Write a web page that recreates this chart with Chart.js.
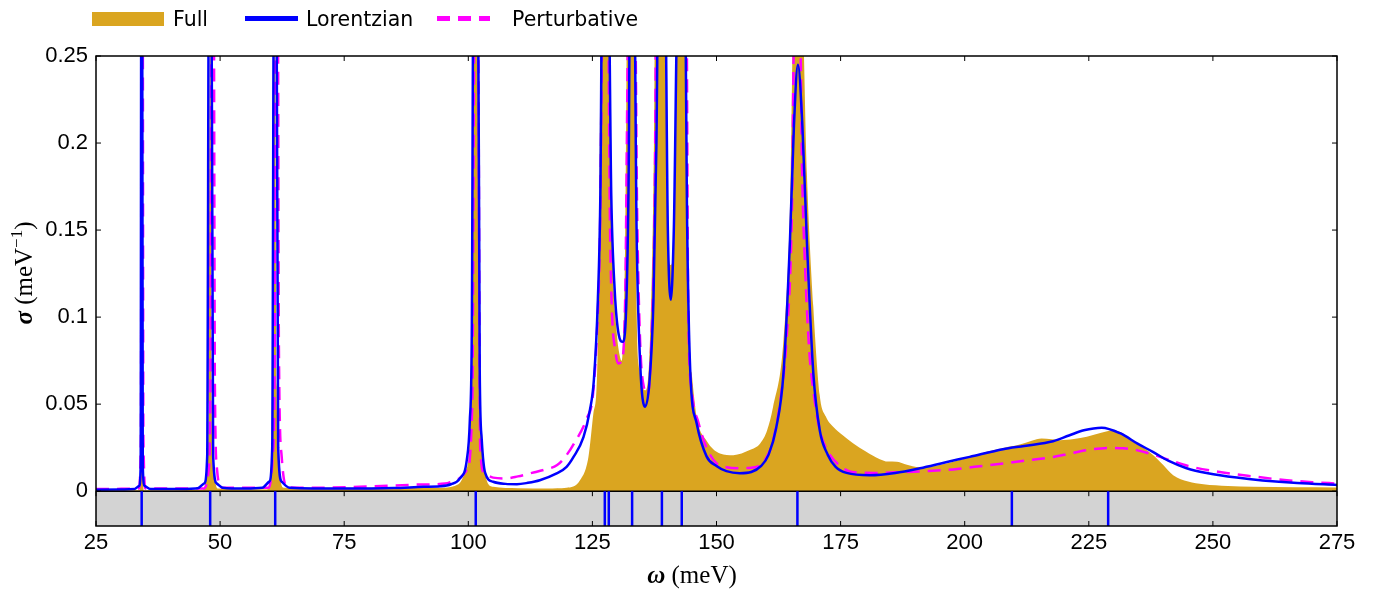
<!DOCTYPE html>
<html>
<head>
<meta charset="utf-8">
<script src="https://cdn.jsdelivr.net/npm/chart.js@4.4.1/dist/chart.umd.min.js"></script>
<style>
    body { margin: 0; background: #fff; }
    #wrap { position: relative; width: 1375px; height: 589px; }
    #legend { position: absolute; left: 0; top: 0; width: 700px; height: 40px; font: 20.5px "DejaVu Sans", sans-serif; color: #000; }
    #legend span { position: absolute; }
    .txt { top: 5px; line-height: 28px; white-space: nowrap; }
</style>
</head>
<body>
<div id="wrap">
    <canvas id="myChart" width="1375" height="589"></canvas>
    <div id="legend">
        <span style="left:92px;top:12px;width:72px;height:14px;background:#DAA520"></span>
        <span class="txt" style="left:173px">Full</span>
        <span style="left:245px;top:16px;width:53px;height:5px;background:#0000FF"></span>
        <span class="txt" style="left:306px">Lorentzian</span>
        <span style="left:437px;top:16px;width:53px;height:5px;background:repeating-linear-gradient(90deg,#FF00FF 0 13px,transparent 13px 21px)"></span>
        <span class="txt" style="left:512px">Perturbative</span>
    </div>
</div>
<script>
// x axis / y axis ticks
var xTicks = [25, 50, 75, 100, 125, 150, 175, 200, 225, 250, 275];
var yTicks = [0, 0.05, 0.1, 0.15, 0.2, 0.25];

// mode positions (blue marks in the lower strip)
var modes = [34.2, 48.0, 61.1, 101.5, 127.5, 128.3, 133.0, 139.0, 143.0, 166.3, 209.5, 228.9];

// Full (gold area)
var fullX = [25, 33.7, 34.05, 34.2, 34.35, 34.7, 46.5, 47.3, 47.7, 48.0, 48.3, 48.8, 49.5,
    59.5, 60.3, 60.7, 61.0, 61.4, 61.9, 62.8, 95, 98, 99.5, 100.5, 101.1, 101.9, 102.5, 103.3, 103.8,
    105, 110, 116, 119.8, 122.5, 124.2, 125.2, 125.9, 126.3, 126.8, 128.2, 129, 129.8, 130.5, 130.9,
    131.6, 132.1, 133.4, 133.9, 134.5, 135.2, 135.7, 136.6, 137.4, 137.7, 139.5, 140.0, 140.8, 141.6,
    142.1, 143.8, 144.3, 145, 146, 148, 150.7, 153.4, 156.7, 158.8, 160.2, 161.4, 163.5, 164.8, 165.7,
    167.0, 168.2, 169.5, 170.8, 172, 173.5, 175.5, 177.5, 180, 182.9, 184.5, 186.3, 188, 191, 194,
    197.7, 201, 204.4, 208, 211.1, 213.5, 215.5, 217.5, 219.2, 222, 224.6, 227.5, 229.9, 232, 234,
    236, 238, 240, 242, 245, 248.1, 253, 258.1, 275];
var fullY = [0.0003, 0.0005, 0.03, 0.3, 0.03, 0.0005, 0.0008, 0.01, 0.05, 0.3, 0.05, 0.01, 0.0015,
    0.001, 0.015, 0.06, 0.3, 0.06, 0.015, 0.002, 0.002, 0.004, 0.012, 0.05, 0.3, 0.3, 0.05, 0.012, 0.0054,
    0.0025, 0.0017, 0.0016, 0.002, 0.0063, 0.0197, 0.0447, 0.064, 0.125, 0.3, 0.3, 0.144, 0.095, 0.078, 0.075,
    0.144, 0.3, 0.3, 0.106, 0.07, 0.059, 0.058, 0.087, 0.2, 0.3, 0.3, 0.17, 0.13, 0.17,
    0.3, 0.3, 0.106, 0.068, 0.0427, 0.029, 0.0217, 0.0207, 0.0236, 0.0274, 0.035, 0.0485, 0.087, 0.163, 0.3,
    0.3, 0.183, 0.106, 0.055, 0.043, 0.037, 0.032, 0.0276, 0.023, 0.0184, 0.017, 0.0169, 0.0155, 0.0138, 0.0145,
    0.0169, 0.0195, 0.0226, 0.025, 0.0268, 0.029, 0.0303, 0.0298, 0.0293, 0.03, 0.0312, 0.0335, 0.035, 0.033, 0.0283,
    0.025, 0.0207, 0.015, 0.0092, 0.0055, 0.004, 0.003, 0.0025, 0.0021];

// Lorentzian (blue line)
var lorX = [25, 30, 32.8, 33.7, 34.0, 34.12, 34.3, 34.42, 34.8, 36, 42, 45.5, 46.8, 47.4, 47.75, 48.25,
    48.6, 49.3, 50.5, 55, 58.5, 59.9, 60.5, 60.85, 61.35, 61.7, 62.4, 64, 75, 85, 91, 94.3, 96.5, 98.3,
    99.7, 100.3, 100.7, 101.05, 101.95, 102.3, 102.7, 103.4, 105, 107.5, 109.8, 112, 114.4, 117.8, 119.8, 121.2, 123.2,
    124.5, 125.3, 126.1, 126.6, 127.0, 128.2, 128.8, 129.5, 130.3, 131.1, 131.8, 132.3, 132.6, 133.4,
    133.9, 134.6, 135.6, 136.5, 137.3, 137.9, 138.3, 139.6, 140.2, 140.8, 141.4, 142.3, 143.6, 144.1,
    144.7, 146, 148, 150, 152, 154.7, 157, 159, 160.5, 162, 163.5, 164.8, 165.6, 166.4, 167.3, 168.2,
    169.5, 170.8, 172.4, 174, 176.2, 180.9, 186, 191, 196, 201, 207.7, 212, 217.8, 221, 224, 227.6,
    231.3, 235, 237.9, 241, 244.7, 249, 254.8, 260, 267, 275];
var lorY = [0.0008, 0.0009, 0.0013, 0.003, 0.015, 0.3, 0.3, 0.015, 0.003, 0.0012, 0.0012, 0.0017, 0.0045, 0.02, 0.3, 0.3,
    0.02, 0.0045, 0.002, 0.0015, 0.002, 0.0055, 0.025, 0.3, 0.3, 0.025, 0.0055, 0.002, 0.0015, 0.0018, 0.0025, 0.0028, 0.004, 0.0073,
    0.018, 0.04, 0.09, 0.3, 0.3, 0.07, 0.03, 0.0105, 0.0054, 0.0042, 0.004, 0.0048, 0.0063, 0.0102, 0.014, 0.0197, 0.031,
    0.0466, 0.064, 0.11, 0.17, 0.3, 0.3, 0.17, 0.115, 0.09, 0.0858, 0.105, 0.18, 0.3, 0.3,
    0.15, 0.075, 0.0485, 0.063, 0.11, 0.2, 0.3, 0.3, 0.15, 0.11, 0.15, 0.3, 0.3, 0.15,
    0.07, 0.039, 0.02, 0.0145, 0.0115, 0.0103, 0.011, 0.0145, 0.021, 0.036, 0.068, 0.144, 0.21, 0.245, 0.21, 0.144,
    0.068, 0.035, 0.021, 0.014, 0.0105, 0.0092, 0.0105, 0.0132, 0.0165, 0.0197, 0.0241, 0.026, 0.0287, 0.032, 0.035, 0.0365,
    0.0333, 0.027, 0.0226, 0.0175, 0.0132, 0.0103, 0.0078, 0.0062, 0.0047, 0.0036];

// Perturbative (magenta dashed)
var pertX = [25, 33.6, 34.05, 34.22, 34.4, 34.55, 35, 46.8, 47.7, 48.05, 48.3, 48.7, 48.95, 49.4, 50.3,
    59.8, 60.6, 61.0, 61.2, 61.6, 61.85, 62.4, 63.5, 70, 80, 90, 95.3, 98, 99.7, 100.8, 101.3, 101.9,
    102.4, 103.2, 105, 107.6, 110, 112.8, 115.5, 117.9, 119.6, 121.3, 123.9, 125.1, 125.9, 126.5, 127.2,
    128.1, 128.5, 128.9, 129.6, 130.2, 130.9, 131.6, 132.4, 133.5, 134.0, 134.6, 135.5, 136.1, 136.9,
    137.6, 137.9, 143.9, 144.3, 145, 146.4, 148, 150, 152, 154.7, 157, 158.8,
    160.2, 161.4, 163, 164.1, 165.2, 165.8, 166.7, 167.2, 167.9, 168.7, 169.5, 170.8, 172.2, 174.9, 177.3,
    182, 187.6, 192, 197.7, 202, 207.8, 212, 217.9, 221, 224.6, 229.3, 232, 234.6, 238, 241.4, 245, 251.4,
    258, 264.9, 270, 275];
var pertY = [0.0012, 0.0015, 0.03, 0.3, 0.3, 0.03, 0.0015, 0.0016, 0.012, 0.06, 0.3, 0.3, 0.06, 0.012, 0.002,
    0.002, 0.02, 0.08, 0.3, 0.3, 0.08, 0.02, 0.0022, 0.002, 0.0027, 0.0038, 0.0044, 0.007, 0.012, 0.05, 0.3, 0.3,
    0.025, 0.0105, 0.0078, 0.0073, 0.0085, 0.0105, 0.0125, 0.015, 0.02, 0.0274, 0.042, 0.055, 0.09, 0.144, 0.3,
    0.3, 0.163, 0.106, 0.081, 0.0734, 0.075, 0.11, 0.3, 0.3, 0.163, 0.087, 0.058, 0.055, 0.087,
    0.18, 0.3, 0.3, 0.106, 0.058, 0.039, 0.025, 0.016, 0.0138, 0.0132, 0.0135, 0.015,
    0.02, 0.029, 0.055, 0.087, 0.163, 0.3, 0.3, 0.19, 0.125, 0.08, 0.058, 0.035, 0.024, 0.0145, 0.011,
    0.0105, 0.011, 0.0115, 0.0125, 0.014, 0.0159, 0.0175, 0.0197, 0.0215, 0.0236, 0.0249, 0.0246, 0.0236, 0.021, 0.0178, 0.0145, 0.011,
    0.0085, 0.0063, 0.0052, 0.0044];

var STRIP = -0.02;
var SERIF = '"Liberation Serif", serif';
var SANS = '"Liberation Sans", Arial, sans-serif';

function pts(xs, ys) {
    return xs.map((x, i) => ({ x: x, y: ys[i] }));
}

// frame, inward ticks and axis titles
var frameTicks = {
    id: 'frameTicks',
    afterDraw: function (chart) {
        const ctx = chart.ctx;
        const a = chart.chartArea;
        const xs = chart.scales.x, ys = chart.scales.y;
        const zero = ys.getPixelForValue(0);
        ctx.save();
        ctx.strokeStyle = '#000';
        ctx.lineWidth = 1;
        ctx.beginPath();
        xTicks.forEach(v => {
            const p = xs.getPixelForValue(v);
            ctx.moveTo(p, a.bottom); ctx.lineTo(p, a.bottom - 5);
            ctx.moveTo(p, zero); ctx.lineTo(p, zero + 5);
            ctx.moveTo(p, a.top); ctx.lineTo(p, a.top + 5);
        });
        yTicks.forEach(v => {
            const p = ys.getPixelForValue(v);
            ctx.moveTo(a.left, p); ctx.lineTo(a.left + 5, p);
            ctx.moveTo(a.right, p); ctx.lineTo(a.right - 5, p);
        });
        ctx.stroke();
        ctx.lineWidth = 1.5;
        ctx.strokeRect(a.left, a.top, a.right - a.left, a.bottom - a.top);

        // x title
        ctx.fillStyle = '#000';
        ctx.textBaseline = 'alphabetic';
        drawParts(ctx, [
            { t: 'ω', f: 'bold italic 25px ' + SERIF },
            { t: ' (meV)', f: '25px ' + SERIF }
        ], 692, 583);
        // y title
        ctx.translate(32, 273);
        ctx.rotate(-Math.PI / 2);
        drawParts(ctx, [
            { t: 'σ', f: 'bold italic 25px ' + SERIF },
            { t: ' (meV', f: '25px ' + SERIF },
            { t: '−1', f: '17px ' + SERIF, dy: -10 },
            { t: ')', f: '25px ' + SERIF }
        ], 0, 0);
        ctx.restore();
    }
};

function drawParts(ctx, parts, cx, y) {
    let w = 0;
    parts.forEach(p => { ctx.font = p.f; p.w = ctx.measureText(p.t).width; w += p.w; });
    let x = cx - w / 2;
    ctx.textAlign = 'left';
    parts.forEach(p => {
        ctx.font = p.f;
        ctx.fillText(p.t, x, y + (p.dy || 0));
        x += p.w;
    });
}

var ctx = document.getElementById('myChart').getContext('2d');
var myChart = new Chart(ctx, {
    type: 'line',
    data: {
        datasets: [{
            label: 'Full',
            data: pts(fullX, fullY),
            fill: 'origin',
            backgroundColor: '#DAA520',
            borderWidth: 0,
            pointRadius: 0,
            cubicInterpolationMode: 'monotone',
            order: 4
        }, {
            label: 'Lorentzian',
            data: pts(lorX, lorY),
            borderColor: '#0000FF',
            borderWidth: 2.5,
            pointRadius: 0,
            fill: false,
            cubicInterpolationMode: 'monotone',
            order: 2
        }, {
            label: 'Perturbative',
            data: pts(pertX, pertY),
            borderColor: '#FF00FF',
            borderWidth: 2.5,
            borderDash: [13, 8],
            pointRadius: 0,
            fill: false,
            cubicInterpolationMode: 'monotone',
            order: 3
        }, {
            label: 'strip',
            data: [{ x: 25, y: 0 }, { x: 275, y: 0 }],
            fill: 'start',
            backgroundColor: '#D3D3D3',
            borderColor: '#000',
            borderWidth: 1.5,
            pointRadius: 0,
            order: 1
        }, {
            label: 'modes',
            data: modes.flatMap(m => [{ x: m, y: STRIP }, { x: m, y: 0 }, { x: m, y: null }]),
            borderColor: '#0000FF',
            borderWidth: 2.5,
            pointRadius: 0,
            fill: false,
            spanGaps: false,
            order: 0
        }]
    },
    options: {
        responsive: false,
        animation: false,
        devicePixelRatio: 1,
        layout: { padding: { top: 56, right: 38, left: 0, bottom: 0 } },
        plugins: {
            legend: { display: false },
            tooltip: { enabled: false }
        },
        scales: {
            x: {
                type: 'linear',
                min: 25,
                max: 275,
                afterBuildTicks: s => { s.ticks = xTicks.map(v => ({ value: v })); },
                afterFit: s => { s.height = 63; },
                grid: { display: false, drawTicks: false },
                border: { display: false },
                ticks: {
                    padding: 4,
                    color: '#000',
                    font: { family: SANS, size: 22 },
                    maxRotation: 0,
                    callback: v => String(v)
                }
            },
            y: {
                type: 'linear',
                min: STRIP,
                max: 0.25,
                afterBuildTicks: s => { s.ticks = yTicks.map(v => ({ value: v })); },
                afterFit: s => { s.width = 96; },
                grid: { display: false, drawTicks: false },
                border: { display: false },
                ticks: {
                    padding: 8,
                    color: '#000',
                    font: { family: SANS, size: 22 },
                    callback: v => String(+v.toFixed(2))
                }
            }
        }
    },
    plugins: [frameTicks]
});
</script>
</body>
</html>
